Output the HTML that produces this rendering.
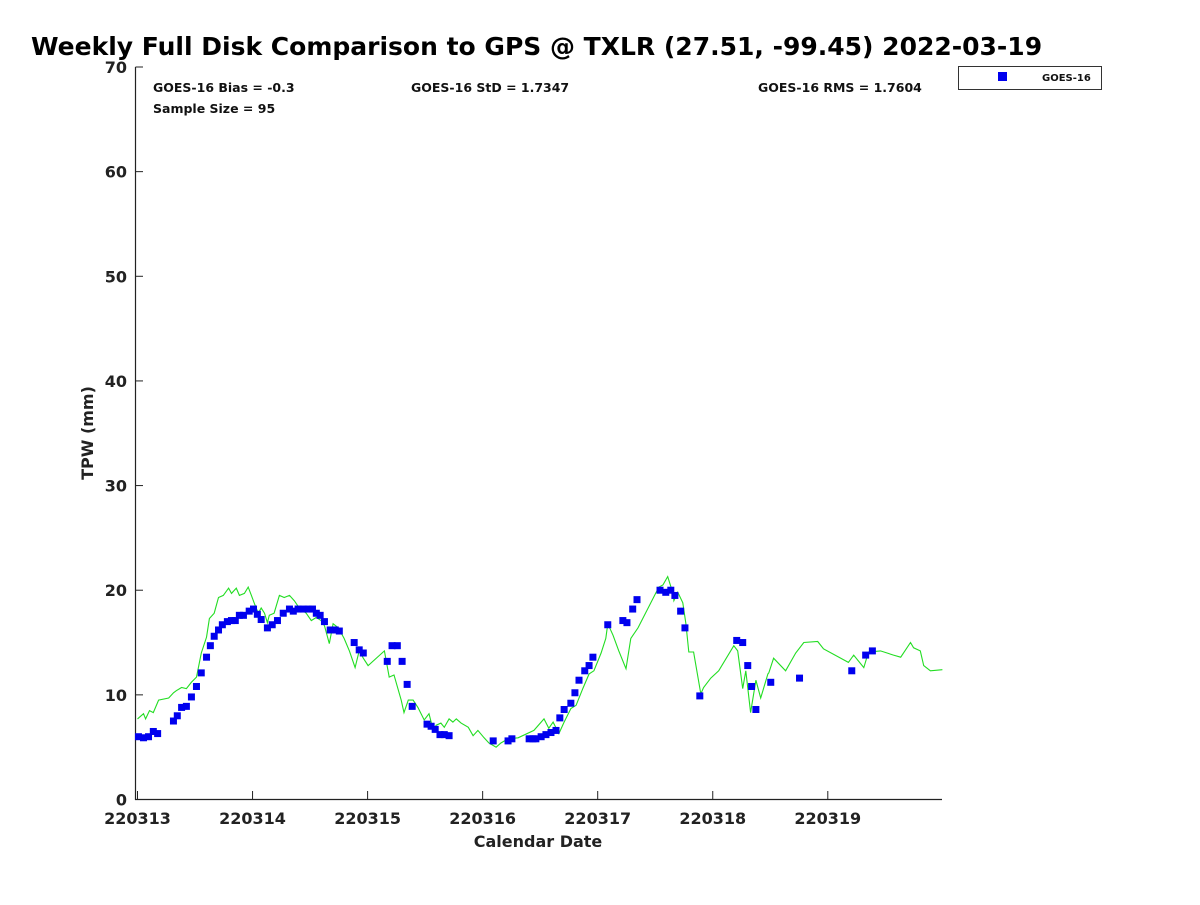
<!DOCTYPE html>
<html><head><meta charset="utf-8"><style>
body{margin:0;background:#fff;width:1200px;height:900px;overflow:hidden}
svg{font-family:"DejaVu Sans","Liberation Sans",sans-serif;font-weight:bold}
</style></head><body>
<svg id="chart" width="1200" height="900" xmlns="http://www.w3.org/2000/svg">
<text x="31" y="55" font-size="25" fill="#000">Weekly Full Disk Comparison to GPS @ TXLR (27.51, -99.45) 2022-03-19</text>
<text x="153" y="92" font-size="12.5" fill="#111">GOES-16 Bias = -0.3</text>
<text x="153" y="113" font-size="12.5" fill="#111">Sample Size = 95</text>
<text x="411" y="92" font-size="12.5" fill="#111">GOES-16 StD = 1.7347</text>
<text x="758" y="92" font-size="12.5" fill="#111">GOES-16 RMS = 1.7604</text>
<g>
<rect x="958.5" y="66.5" width="143" height="23" fill="#fff" stroke="#333" stroke-width="1"/>
<rect x="998" y="72" width="9" height="9" fill="#0000ee"/>
<text x="1042" y="81" font-size="10" fill="#111">GOES-16</text>
</g>
<text transform="translate(93,433) rotate(-90)" text-anchor="middle" font-size="16" fill="#222">TPW (mm)</text>
<text x="538" y="847" text-anchor="middle" font-size="16" fill="#222">Calendar Date</text>
<g id="axes"></g>
<g id="plot"></g>
</svg>
<script>
const xTickLabels=["220313","220314","220315","220316","220317","220318","220319"];
const yTickLabels=[0,10,20,30,40,50,60,70];
// hours since 2022-03-13 00Z, TPW mm
const goesHours=[0.2,1.25,2.3,3.3,4.2,7.5,8.3,9.2,10.2,11.25,12.3,13.3,14.4,15.2,16,16.9,17.7,18.75,19.6,20.4,21.25,22.1,23.3,24.2,25,25.8,27.1,28.1,29.2,30.4,31.7,32.5,33.5,34.6,35.6,36.5,37.3,38.1,39,40.2,41.25,42.1,45.2,46.25,47.1,52.1,53.1,54.2,55.2,56.25,57.3,60.4,61.25,62.1,63.1,64,65,74.2,77.3,78.1,81.7,82.5,83.1,84.2,85.2,86.25,87.3,88.1,89,90.4,91.25,92.1,93.3,94.2,95,98.1,101.25,102.1,103.3,104.2,109,110.2,111.25,112.1,113.3,114.2,117.3,125,126.25,127.3,128.1,129,132.1,138.1,149,151.9,153.3];
const goesTpw=[6.0,5.9,6.0,6.5,6.3,7.5,8.0,8.8,8.9,9.8,10.8,12.1,13.6,14.7,15.6,16.2,16.7,17.0,17.1,17.1,17.6,17.6,18.0,18.2,17.7,17.2,16.4,16.7,17.1,17.8,18.2,18.0,18.2,18.2,18.2,18.2,17.8,17.6,17.0,16.2,16.2,16.1,15.0,14.3,14.0,13.2,14.7,14.7,13.2,11.0,8.9,7.2,7.0,6.7,6.2,6.2,6.1,5.6,5.6,5.8,5.8,5.8,5.8,6.0,6.2,6.4,6.6,7.8,8.6,9.2,10.2,11.4,12.3,12.8,13.6,16.7,17.1,16.9,18.2,19.1,20.0,19.8,20.0,19.5,18.0,16.4,9.9,15.2,15.0,12.8,10.8,8.6,11.2,11.6,12.3,13.8,14.2];
const gpsHours=[0,1.25,1.7,2.5,3.3,4.4,6.5,7.5,8.1,9.2,10.2,11.25,12.3,13.3,14.4,15,16,16.9,17.9,19,19.6,20.6,21.25,22.3,23.1,23.75,24.4,25.2,25.8,26.5,27.1,27.5,28.5,29.6,30.6,31.7,32.7,33.75,35.2,36.25,37.3,38.3,39,40,40.8,41.9,43.1,44.2,45.4,46.25,47.1,48.1,51.5,52.5,53.5,55,55.6,56.5,57.5,58.5,59.8,60.8,61.7,62.3,63.3,64,65,65.8,66.5,67.5,69,70,71,72.3,73.3,74.8,75.8,77.3,79.4,82.7,84.8,85.8,86.7,87.9,89,90.4,91.5,92.9,94.2,95.2,96.7,97.7,98.1,99.2,100.4,101.9,102.9,104.4,108.75,109.6,110.6,111.7,111.9,112.7,113.75,114.4,115,116,117.5,118.1,119.6,121.25,124.4,125.2,126.25,126.9,127.9,129,130,131.5,131.7,132.7,135.2,137.3,139,141.9,143.1,148.3,149.4,151.5,152.5,155,157.7,159.2,161.25,161.9,163.3,164,165.4,167.9];
const gpsTpw=[7.7,8.2,7.7,8.5,8.3,9.5,9.7,10.2,10.4,10.7,10.6,11.2,11.7,14.0,15.5,17.3,17.8,19.3,19.5,20.2,19.7,20.2,19.5,19.7,20.3,19.5,18.7,17.8,18.3,17.8,16.9,17.6,17.8,19.5,19.3,19.5,19.0,18.3,17.8,17.1,17.4,17.1,16.6,14.9,16.8,16.4,15.4,14.2,12.6,14.2,13.5,12.8,14.2,11.7,11.9,9.5,8.3,9.5,9.5,8.8,7.6,8.2,6.6,7.1,7.3,6.9,7.7,7.4,7.7,7.3,6.9,6.1,6.6,5.9,5.4,5.0,5.4,5.8,5.9,6.6,7.7,6.8,7.4,6.3,7.4,8.7,9.0,10.6,12.0,12.3,14.0,15.4,16.8,15.7,14.2,12.5,15.4,16.4,20.3,20.5,21.3,19.7,19.0,19.8,18.8,16.8,14.1,14.1,10.1,10.7,11.6,12.3,14.7,14.2,10.6,12.3,8.3,11.4,9.7,12.0,12.1,13.5,12.3,14.0,15.0,15.1,14.4,13.1,13.8,12.6,14.1,14.2,13.8,13.6,15.0,14.5,14.2,12.8,12.3,12.4];

const X0=137.5, PXDAY=115.05, Y0=799.5, PXUNIT=(799.5-67)/70;
const xs=h=>X0+h/24*PXDAY;
const ys=v=>Y0-v*PXUNIT;
const NS="http://www.w3.org/2000/svg";
const axes=document.getElementById('axes'), plot=document.getElementById('plot');
function mk(tag,attrs,parent){const e=document.createElementNS(NS,tag);for(const k in attrs)e.setAttribute(k,attrs[k]);parent.appendChild(e);return e;}

const yAxis=mk('line',{x1:135.5,y1:67,x2:135.5,y2:800,stroke:'#222','stroke-width':1.2},axes);


const xAxis=mk('line',{x1:135,y1:799.5,x2:942,y2:799.5,stroke:'#222','stroke-width':1.2},axes);



yTickLabels.forEach(v=>{
  const y=ys(v);
  const t=mk('line',{x1:135.5,y1:y,x2:143,y2:y,stroke:'#222','stroke-width':1},axes);
  
  
  const l=mk('text',{x:127,y:y+6,'text-anchor':'end','font-size':16,fill:'#222'},axes);
  l.textContent=v;
  
  
});
xTickLabels.forEach((s,i)=>{
  const x=xs(i*24);
  const t=mk('line',{x1:x,y1:799.5,x2:x,y2:791,stroke:'#222','stroke-width':1},axes);
  
  
  const l=mk('text',{x:x,y:824,'text-anchor':'middle','font-size':16,fill:'#222'},axes);
  l.textContent=s;
  
  
});

const pts=gpsHours.map((h,i)=>xs(h).toFixed(1)+','+ys(gpsTpw[i]).toFixed(1)).join(' ');
const line=mk('polyline',{points:pts,fill:'none',stroke:'#22dd22','stroke-width':1.1},plot);



goesHours.forEach((h,i)=>{
  const r=mk('rect',{x:xs(h)-3.5,y:ys(goesTpw[i])-3.5,width:7,height:7,fill:'#0000ee'},plot);
  
  
});
</script>
</body></html>
